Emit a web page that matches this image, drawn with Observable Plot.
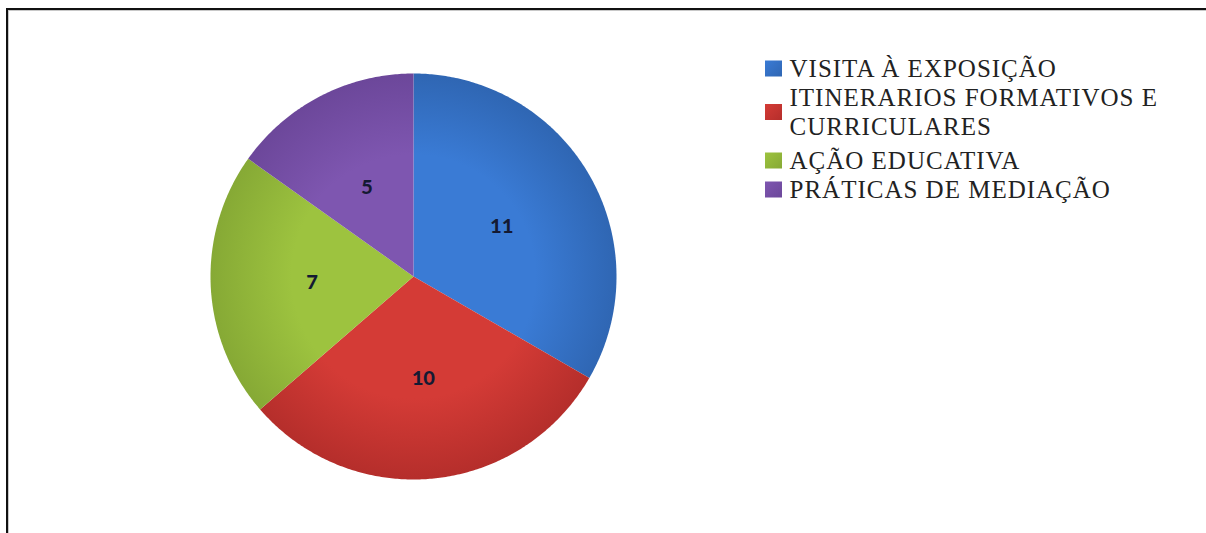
<!DOCTYPE html>
<html>
<head>
<meta charset="utf-8">
<script src="https://cdn.jsdelivr.net/npm/d3@7"></script>
<script src="https://cdn.jsdelivr.net/npm/@observablehq/plot@0.6"></script>
<style>
  html, body { margin: 0; padding: 0; background: #fff; overflow: hidden; }
  #wrap { position: relative; width: 1206px; height: 533px; overflow: hidden; }
  #frame { position: absolute; left: 6px; top: 8px; width: 1260px; height: 560px;
           border-top: 2px solid #111; border-left: 2px solid #111;
           box-shadow: inset 1px 1px 0 #c8c8c8; pointer-events: none; }
</style>
</head>
<body>
<div id="wrap"><div id="frame"></div></div>
<script>
// ---- data ----
const categories = ["VISITA À EXPOSIÇÃO", "ITINERARIOS FORMATIVOS E CURRICULARES", "AÇÃO EDUCATIVA", "PRÁTICAS DE MEDIAÇÃO"];
const values = [11, 10, 7, 5];
const colors = ["#3a7bd5", "#d43b36", "#9dc33f", "#7e56b0"];
const darkColors = ["#2f66b3", "#b52e2b", "#86a935", "#6c479a"];
const legendLines = [["VISITA À EXPOSIÇÃO"], ["ITINERARIOS FORMATIVOS E", "CURRICULARES"], ["AÇÃO EDUCATIVA"], ["PRÁTICAS DE MEDIAÇÃO"]];

// ---- layout ----
const W = 1206, H = 533;
const cx = 413, cy = 276, R = 203;
const labelR = 0.5;

const arcs = d3.pie().sort(null)(values);

const wedges = [];
arcs.forEach((a, i) => {
  const n = Math.max(8, Math.ceil((a.endAngle - a.startAngle) / 0.01));
  wedges.push({i, x: cx, y: cy});
  for (let k = 0; k <= n; k++) {
    const t = a.startAngle + (a.endAngle - a.startAngle) * k / n;
    wedges.push({i, x: cx + R * Math.sin(t), y: cy - R * Math.cos(t)});
  }
  wedges.push({i, x: cx, y: cy});
});

const labels = arcs.map((a, i) => {
  const m = (a.startAngle + a.endAngle) / 2;
  return {v: values[i], x: cx + R * labelR * Math.sin(m), y: cy - R * labelR * Math.cos(m)};
});

const legX = 765, sq = 17, textX = 789, fs = 25;
const baselines = [[76], [105, 134], [168], [197]];
const legendText = [];
const legendSquares = [];
legendLines.forEach((lines, i) => {
  lines.forEach((t, j) => legendText.push({t, x: textX, y: baselines[i][j] - 0.32 * fs}));
  const b = baselines[i];
  const mid = b.length === 1 ? b[0] - 7.5 : (b[0] + b[1] - 15) / 2;
  legendSquares.push({i, x1: legX, x2: legX + sq, y1: mid - 8, y2: mid + 8});
});

const marks = [];
arcs.forEach((a, i) => {
  marks.push(Plot.line(wedges.filter(d => d.i === i), {x: "x", y: "y", fill: `url(#grad${i})`, stroke: "none", curve: "linear"}));
});
marks.push(Plot.text(labels, {x: "x", y: "y", text: "v", fontSize: 23, fontWeight: "bold",
  fontFamily: "Carlito", fill: "#141a33"}));
legendSquares.forEach(s => {
  marks.push(Plot.rect([s], {x1: "x1", x2: "x2", y1: "y1", y2: "y2", fill: `url(#sgrad${s.i})`, inset: 0}));
});
marks.push(Plot.text(legendText, {x: "x", y: "y", text: "t", textAnchor: "start", fontSize: fs,
  fontFamily: "Liberation Serif", fill: "#222"}));

const chart = Plot.plot({
  width: W, height: H, margin: 0,
  x: {domain: [0, W], range: [0, W], axis: null},
  y: {domain: [0, H], range: [0, H], axis: null},
  marks
});

const ns = "http://www.w3.org/2000/svg";
const defs = document.createElementNS(ns, "defs");
colors.forEach((c, i) => {
  const g = document.createElementNS(ns, "radialGradient");
  g.setAttribute("id", `grad${i}`);
  g.setAttribute("gradientUnits", "userSpaceOnUse");
  g.setAttribute("cx", cx); g.setAttribute("cy", cy); g.setAttribute("r", R);
  [[0, c], [0.6, c], [1, darkColors[i]]].forEach(([o, col]) => {
    const s = document.createElementNS(ns, "stop");
    s.setAttribute("offset", o); s.setAttribute("stop-color", col);
    g.appendChild(s);
  });
  defs.appendChild(g);
  const lg = document.createElementNS(ns, "linearGradient");
  lg.setAttribute("id", `sgrad${i}`);
  lg.setAttribute("x1", 0); lg.setAttribute("y1", 0); lg.setAttribute("x2", 1); lg.setAttribute("y2", 1);
  [[0, c], [1, darkColors[i]]].forEach(([o, col]) => {
    const s = document.createElementNS(ns, "stop");
    s.setAttribute("offset", o); s.setAttribute("stop-color", col);
    lg.appendChild(s);
  });
  defs.appendChild(lg);
});
chart.insertBefore(defs, chart.firstChild);

chart.querySelectorAll("text").forEach(t => {
  if (!/^\d+$/.test(t.textContent)) t.setAttribute("letter-spacing", "1");
});

document.getElementById("wrap").insertBefore(chart, document.getElementById("frame"));
</script>
</body>
</html>
